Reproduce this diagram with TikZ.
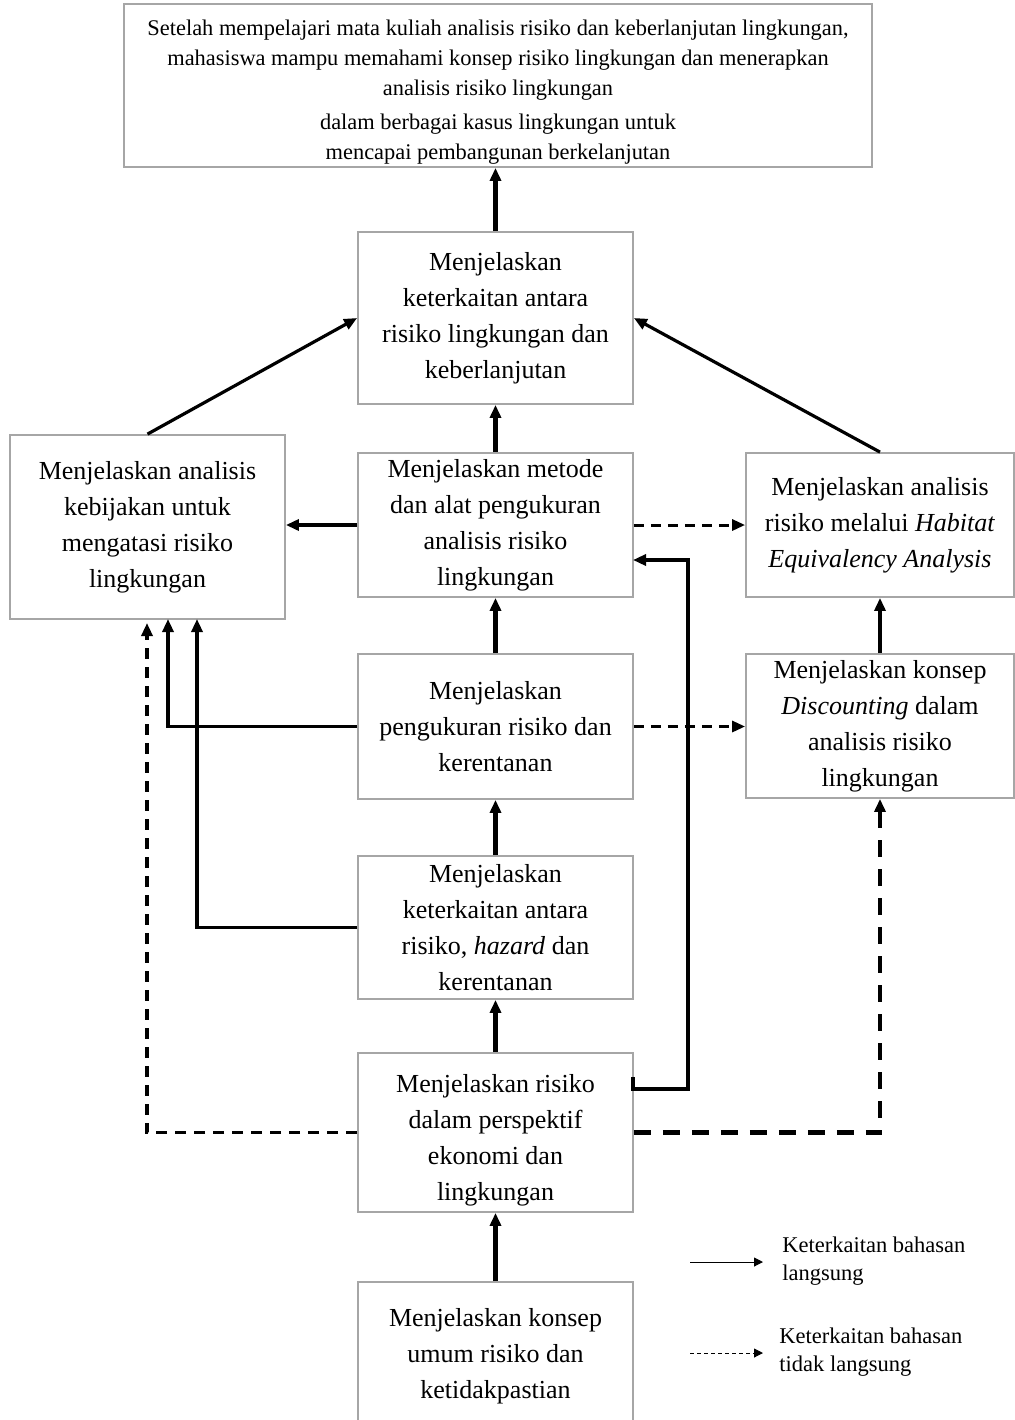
\documentclass[tikz,border=0pt]{standalone}
\usepackage{fontspec}
\setmainfont{Liberation Serif}
\usetikzlibrary{arrows.meta}

\begin{document}
\begin{tikzpicture}[x=0.5pt, y=-0.5pt,
  box/.style={draw=black!35, line width=0.9pt, fill=white, align=center, inner sep=0pt,
    font=\fontsize{13pt}{18pt}\selectfont},
  txt/.style={align=center, inner sep=0pt, font=\fontsize{13pt}{18pt}\selectfont},
  sz/.style 2 args={minimum width=#1*0.5pt, minimum height=#2*0.5pt},
  tip/.style={-{Triangle[length=6.5pt,width=5.5pt]}},
  link/.style={tip, line width=1.6pt},
  trunk/.style={tip, line width=2.2pt},
  indirect/.style={tip, line width=1.5pt, dash pattern=on 5pt off 3.5pt},
  indirectlong/.style={tip, line width=1.6pt, dash pattern=on 5.5pt off 4pt},
  indirectheavy/.style={tip, line width=2.4pt, dash pattern=on 8.5pt off 6pt},
  legtext/.style={align=left, inner sep=0pt, anchor=west, font=\fontsize{11.25pt}{14pt}\selectfont},
  legtip/.style={-{Triangle[length=4.5pt,width=4.5pt]}, line width=0.5pt}
]
\useasboundingbox (0,0) rectangle (1015,1420);
\fill[white] (0,0) rectangle (1015,1420);
\clip (0,0) rectangle (1015,1420);

% learning outcome
\node[box, sz={748}{163}] (goal) at (498,85.5) {};
\node[txt, font=\fontsize{11.2pt}{15pt}\selectfont] (goaltext) at ([yshift=-3.5pt]goal.center)
  {Setelah mempelajari mata kuliah analisis risiko dan keberlanjutan lingkungan,\\
   mahasiswa mampu memahami konsep risiko lingkungan dan menerapkan\\
   analisis risiko lingkungan\\[2pt]
   dalam berbagai kasus lingkungan untuk\\
   mencapai pembangunan berkelanjutan};

% topic boxes
\node[box, sz={275}{172}] (sust) at (495.5,318)
  {Menjelaskan\\keterkaitan antara\\risiko lingkungan dan\\keberlanjutan};
\node[box, sz={275}{184}] (policy) at (147.5,527)
  {Menjelaskan analisis\\kebijakan untuk\\mengatasi risiko\\lingkungan};
\node[box, sz={275}{144}] (method) at (495.5,525)
  {Menjelaskan metode\\dan alat pengukuran\\analisis risiko\\lingkungan};
\node[box, sz={268}{144}] (hea) at (880,525)
  {Menjelaskan analisis\\risiko melalui \textit{Habitat}\\\textit{Equivalency Analysis}};
\node[box, sz={275}{145}] (measure) at (495.5,726.5)
  {Menjelaskan\\pengukuran risiko dan\\kerentanan};
\node[box, sz={268}{144}] (discount) at (880,726)
  {Menjelaskan konsep\\\textit{Discounting} dalam\\analisis risiko\\lingkungan};
\node[box, sz={275}{143}] (hazard) at (495.5,927.5)
  {Menjelaskan\\keterkaitan antara\\risiko, \textit{hazard} dan\\kerentanan};
\node[box, sz={275}{159}] (econ) at (495.5,1132.5) {};
\node[txt] (econtext) at ([yshift=-4pt]econ.center)
  {Menjelaskan risiko\\dalam perspektif\\ekonomi dan\\lingkungan};
\node[box, sz={275}{148}] (basic) at (495.5,1356)
  {Menjelaskan konsep\\umum risiko dan\\ketidakpastian};

% auxiliary points on box borders
\coordinate (pA) at (168,619);
\coordinate (pB) at (197,619);
\coordinate (pC) at (147,623);
\coordinate (eR) at (633,1077);
\coordinate (mR) at (633,560);

% central chain
\draw[trunk] (sust.north) -- (sust.north |- goal.south);
\draw[trunk] (method.north) -- (sust.south);
\draw[trunk] (measure.north) -- (method.south);
\draw[trunk] (hazard.north) -- (measure.south);
\draw[trunk] (econ.north) -- (hazard.south);
\draw[tip, line width=2.7pt] (basic.north) -- (econ.south);

% direct links
\draw[link] (policy.north) -- (sust.west);
\draw[link] (hea.north) -- (sust.east);
\draw[link] (method.west) -- (policy.east |- method.west);
\draw[link] (discount.north) -- (hea.south);
\draw[link] (measure.west) -| (pA);
\draw[link] (hazard.west) -| (pB);
\draw[link] (eR) |- (688,1089) |- (mR);

% indirect links
\draw[indirect] (method.east) -- (hea.west |- method.east);
\draw[indirect] (measure.east) -- (discount.west |- measure.east);
\draw[indirectlong] (econ.west) -| (pC);
\draw[indirectheavy] (econ.east) -| (discount.south);

% legend
\node[legtext] (leg1) at (782,1261) {Keterkaitan bahasan\\langsung};
\node[legtext] (leg2) at (779,1352) {Keterkaitan bahasan\\tidak langsung};
\coordinate (l1) at (690,1262);
\coordinate (l2) at (690,1353);
\draw[legtip] (l1) -- (l1 -| 763,0);
\draw[legtip, dash pattern=on 2pt off 1.5pt] (l2) -- (l2 -| 763,0);
\end{tikzpicture}
\end{document}
